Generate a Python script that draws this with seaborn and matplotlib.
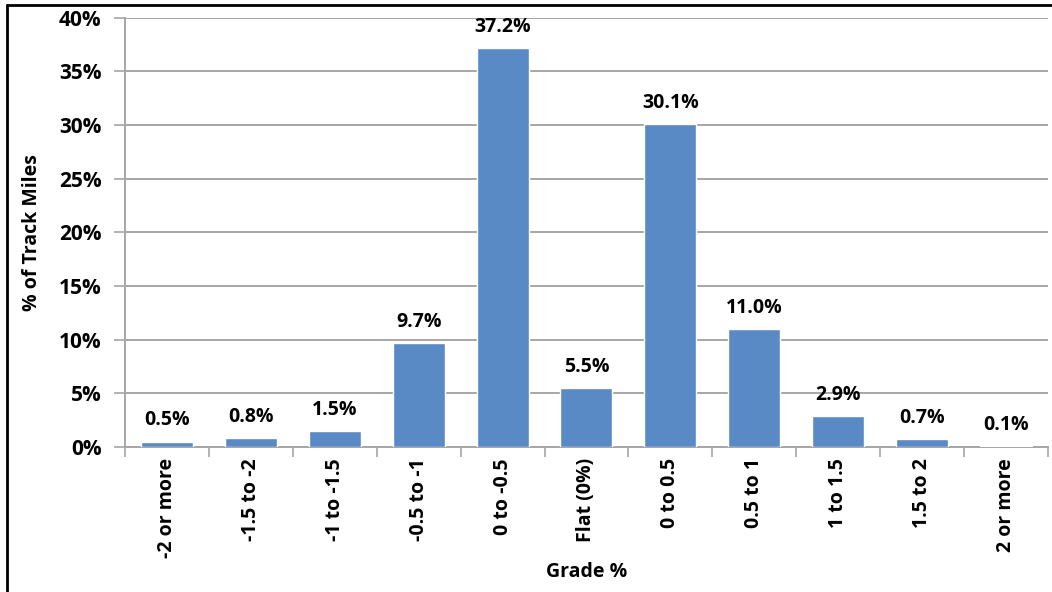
import matplotlib
matplotlib.use('Agg')
import matplotlib.pyplot as plt
import seaborn as sns
import pandas as pd
from matplotlib.lines import Line2D
from matplotlib.ticker import FuncFormatter, FixedLocator

# Дані
grades = ['-2 or more', '-1.5 to -2', '-1 to -1.5', '-0.5 to -1', '0 to -0.5',
          'Flat (0%)', '0 to 0.5', '0.5 to 1', '1 to 1.5', '1.5 to 2', '2 or more']
share = [0.5, 0.8, 1.5, 9.7, 37.2, 5.5, 30.1, 11.0, 2.9, 0.7, 0.1]

df = pd.DataFrame({'grade': grades, 'share': share})

sns.set_theme(style="white")
plt.rcParams['font.family'] = ['Open Sans', 'DejaVu Sans']
plt.rcParams['font.weight'] = 'bold'

fig = plt.figure(figsize=(10.52, 5.92), dpi=100)
ax = fig.add_axes([0.119, 0.245, 0.877, 0.725])

sns.barplot(data=df, x='grade', y='share', color='#5A8AC6', saturation=1,
            width=0.62, ax=ax, zorder=3)

ax.set_ylim(0, 40)
ax.set_xlim(-0.5, len(grades) - 0.5)
ax.yaxis.set_major_locator(FixedLocator(range(0, 41, 5)))
ax.yaxis.set_major_formatter(FuncFormatter(lambda v, p: f'{v:.0f}%'))
ax.grid(axis='y', color='#A6A6A6', linewidth=1.4, zorder=0)
ax.grid(axis='x', visible=False)

for s in ['top', 'right']:
    ax.spines[s].set_visible(False)
for s in ['left', 'bottom']:
    ax.spines[s].set_color('#A6A6A6')
    ax.spines[s].set_linewidth(1.4)

# Тики по межах категорій
ax.set_xticks([i - 0.5 for i in range(len(grades) + 1)], minor=True)
ax.tick_params(axis='x', which='minor', length=7, color='#A6A6A6', width=1.2, bottom=True)
ax.tick_params(axis='x', which='major', length=0, pad=8)
ax.tick_params(axis='y', length=8, color='#A6A6A6', width=1.2, left=True, pad=9)
ax.set_xticks(range(len(grades)))
ax.set_xticklabels(grades, rotation=90, fontsize=14, fontweight='bold', color='black')
for lab in ax.get_yticklabels():
    lab.set_fontsize(15)
    lab.set_fontweight('bold')
    lab.set_color('black')

ax.bar_label(ax.containers[0], labels=[f'{v:.1f}%' for v in share], padding=8,
             fontsize=14, fontweight='bold', color='black')

ax.set_xlabel('Grade %', fontsize=14, fontweight='bold', color='black', labelpad=3)
ax.set_ylabel('% of Track Miles', fontsize=14, fontweight='bold', color='black', labelpad=12)

# Чорна рамка зліва та зверху
fig.add_artist(Line2D([0.0068, 0.0068], [0, 0.992], transform=fig.transFigure,
                      color='black', linewidth=2))
fig.add_artist(Line2D([0.0068, 1], [0.992, 0.992], transform=fig.transFigure,
                      color='black', linewidth=2))

fig.savefig('out.png', dpi=100)
plt.close(fig)
